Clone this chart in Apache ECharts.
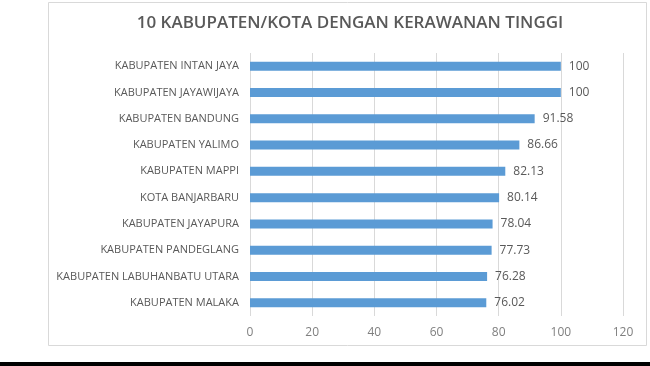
<!DOCTYPE html>
<html><head><meta charset="utf-8">
<script src="https://cdn.jsdelivr.net/npm/echarts@6/dist/echarts.min.js"></script>
<style>html,body{margin:0;padding:0;background:#fff}#c{width:650px;height:366px}</style>
</head><body><div id="c"></div>
<script>
const titleText = "10 KABUPATEN/KOTA DENGAN KERAWANAN TINGGI";
const categories = ["KABUPATEN INTAN JAYA","KABUPATEN JAYAWIJAYA","KABUPATEN BANDUNG","KABUPATEN YALIMO","KABUPATEN MAPPI","KOTA BANJARBARU","KABUPATEN JAYAPURA","KABUPATEN PANDEGLANG","KABUPATEN LABUHANBATU UTARA","KABUPATEN MALAKA"];
const values = [100,100,91.58,86.66,82.13,80.14,78.04,77.73,76.28,76.02];
const xTicks = [0,20,40,60,80,100,120];

const chart = echarts.init(document.getElementById('c'), null, {renderer:'canvas'});
chart.setOption({
  backgroundColor:'#fff',
  animation:false,
  title:{text:titleText,left:345,top:10,textAlign:'center',
    textStyle:{fontFamily:'Open Sans',fontSize:17,fontWeight:600,color:'#595959'}},
  graphic:[
    {type:'rect',shape:{x:48.5,y:2.5,width:598,height:343},style:{fill:'none',stroke:'#d9d9d9',lineWidth:1},z:-1},
    {type:'rect',shape:{x:0,y:362,width:650,height:4},style:{fill:'#000'}}
  ],
  grid:{left:250,right:27,top:53,bottom:50,containLabel:false},
  xAxis:{type:'value',min:xTicks[0],max:xTicks[xTicks.length-1],interval:20,
    axisLine:{show:false},axisTick:{show:false},
    splitLine:{show:true,lineStyle:{color:'#d9d9d9',width:1}},
    axisLabel:{margin:11,fontFamily:'Open Sans',fontSize:12,color:'#7f7f7f'}},
  yAxis:{type:'category',data:categories,inverse:true,
    axisLine:{show:false},axisTick:{show:false},
    axisLabel:{margin:11,fontFamily:'Open Sans',fontSize:11,color:'#595959'}},
  series:[{type:'bar',data:values,barWidth:9,
    itemStyle:{color:'#5b9bd5'},
    label:{show:true,position:'right',distance:8,fontFamily:'Open Sans',fontSize:12,color:'#595959',
      formatter:p=>String(p.value)}}]
});
</script></body></html>
